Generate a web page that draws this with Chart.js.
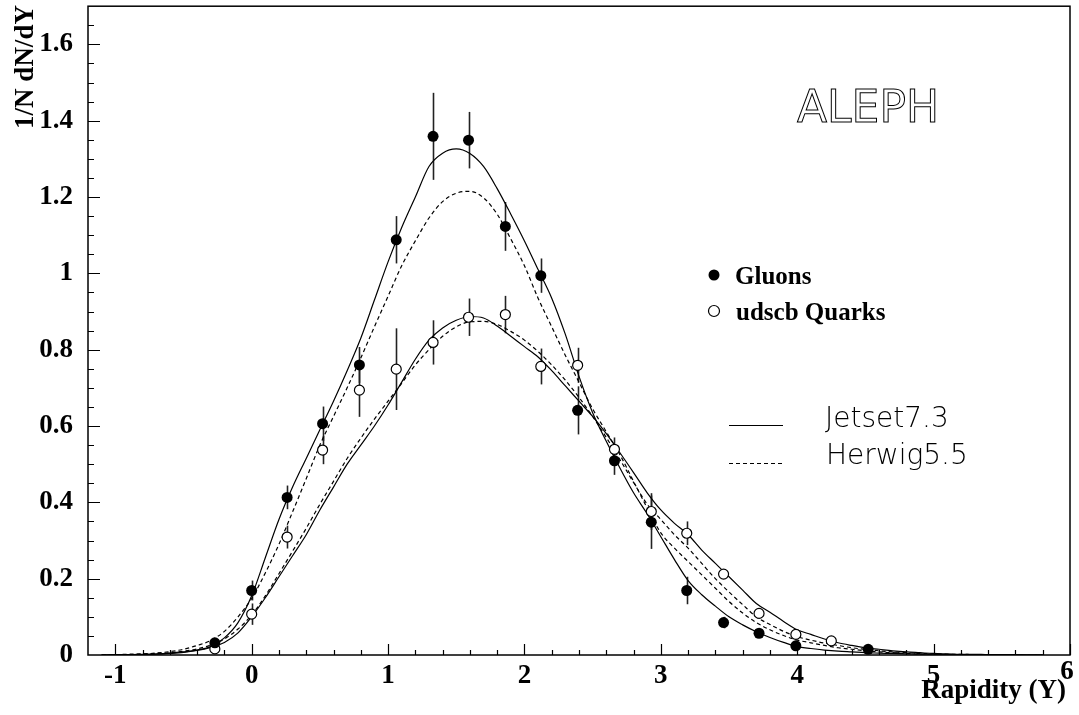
<!DOCTYPE html>
<html>
<head>
<meta charset="utf-8">
<script src="https://cdn.jsdelivr.net/npm/chart.js@4.4.1/dist/chart.umd.min.js"></script>
<style>
  html, body { margin: 0; padding: 0; background: #fff; }
</style>
</head>
<body>
<canvas id="graphId" width="1079" height="715"></canvas>
<script>
//////////////////////////////// data \\\\\\\\\\\\\\\\\\\\\\\\\\\\\\\\

// measured bins (rapidity)
const binX = [-0.27, 0, 0.26, 0.52, 0.79, 1.06, 1.33, 1.59, 1.86, 2.12, 2.39, 2.66, 2.93, 3.19, 3.46, 3.72, 3.99, 4.25, 4.52];
const gluonY = [0.032, 0.169, 0.413, 0.606, 0.76, 1.088, 1.359, 1.349, 1.123, 0.994, 0.641, 0.509, 0.348, 0.169, 0.085, 0.057, 0.024, null, 0.015];
const gluonErr = [0.006, 0.026, 0.031, 0.045, 0.047, 0.062, 0.114, 0.074, 0.064, 0.045, 0.063, 0.037, 0.07, 0.036, 0.015, 0.008, 0.008, null, 0.004];
const quarkY = [0.016, 0.107, 0.309, 0.537, 0.694, 0.749, 0.819, 0.885, 0.892, 0.756, 0.759, 0.539, 0.376, 0.319, 0.212, 0.109, 0.054, 0.037, null];
const quarkErr = [0.004, 0.028, 0.03, 0.037, 0.07, 0.107, 0.058, 0.049, 0.049, 0.047, 0.046, 0.031, 0.048, 0.031, 0.012, 0.013, 0.006, 0.005, null];

// MC curves, read every 0.1 from -1.1 to 5.8
const curveX = [-1.1, -1.0, -0.9, -0.8, -0.7, -0.6, -0.5, -0.4, -0.3, -0.2, -0.1,
  0.0, 0.1, 0.2, 0.3, 0.4, 0.5, 0.6, 0.7, 0.8, 0.9,
  1.0, 1.1, 1.2, 1.3, 1.4, 1.5, 1.6, 1.7, 1.8, 1.9,
  2.0, 2.1, 2.2, 2.3, 2.4, 2.5, 2.6, 2.7, 2.8, 2.9,
  3.0, 3.1, 3.2, 3.3, 3.4, 3.5, 3.6, 3.7, 3.8, 3.9,
  4.0, 4.1, 4.2, 4.3, 4.4, 4.5, 4.6, 4.7, 4.8, 4.9,
  5.0, 5.1, 5.2, 5.3, 5.4, 5.5, 5.6, 5.7, 5.8];
const jetsetGluon = [0, 0, 0.001, 0.001, 0.002, 0.004, 0.007, 0.013, 0.022, 0.045, 0.085,
  0.155, 0.255, 0.355, 0.44, 0.515, 0.59, 0.665, 0.745, 0.83, 0.93,
  1.03, 1.12, 1.2, 1.28, 1.315, 1.326, 1.314, 1.28, 1.222, 1.155,
  1.085, 1.01, 0.935, 0.84, 0.73, 0.635, 0.56, 0.49, 0.425, 0.37,
  0.31, 0.25, 0.195, 0.158, 0.128, 0.1, 0.079, 0.061, 0.046, 0.033,
  0.022, 0.017, 0.013, 0.01, 0.008, 0.006, 0.005, 0.004, 0.003, 0.002,
  0.002, 0.001, 0.001, 0.001, 0.001, 0, 0, 0, 0];
const herwigGluon = [0, 0.001, 0.002, 0.003, 0.005, 0.009, 0.015, 0.025, 0.038, 0.062, 0.1,
  0.148, 0.215, 0.29, 0.375, 0.462, 0.55, 0.625, 0.7, 0.778, 0.86,
  0.94, 1.02, 1.085, 1.145, 1.188, 1.21, 1.215, 1.198, 1.155, 1.09,
  1.02, 0.935, 0.86, 0.785, 0.715, 0.645, 0.585, 0.525, 0.455, 0.385,
  0.32, 0.28, 0.245, 0.21, 0.175, 0.14, 0.11, 0.085, 0.066, 0.051,
  0.039, 0.032, 0.025, 0.019, 0.015, 0.011, 0.008, 0.006, 0.004, 0.003,
  0.002, 0.001, 0.001, 0.001, 0, 0, 0, 0, 0];
const jetsetQuark = [0, 0.001, 0.001, 0.002, 0.003, 0.005, 0.008, 0.012, 0.02, 0.033, 0.058,
  0.1, 0.15, 0.205, 0.26, 0.315, 0.38, 0.44, 0.5, 0.55, 0.6,
  0.655, 0.715, 0.775, 0.825, 0.857, 0.877, 0.887, 0.883, 0.862, 0.835,
  0.808, 0.781, 0.745, 0.705, 0.665, 0.625, 0.58, 0.53, 0.478, 0.425,
  0.38, 0.345, 0.315, 0.275, 0.24, 0.205, 0.17, 0.135, 0.112, 0.088,
  0.066, 0.054, 0.042, 0.032, 0.025, 0.019, 0.015, 0.011, 0.008, 0.006,
  0.004, 0.003, 0.002, 0.002, 0.001, 0.001, 0.001, 0, 0];
const herwigQuark = [0, 0.001, 0.001, 0.002, 0.004, 0.006, 0.01, 0.016, 0.026, 0.042, 0.068,
  0.105, 0.155, 0.213, 0.272, 0.332, 0.395, 0.455, 0.515, 0.568, 0.618,
  0.665, 0.712, 0.76, 0.8, 0.835, 0.86, 0.873, 0.874, 0.866, 0.848,
  0.825, 0.795, 0.76, 0.72, 0.675, 0.625, 0.57, 0.512, 0.452, 0.395,
  0.355, 0.315, 0.28, 0.24, 0.2, 0.165, 0.132, 0.1, 0.08, 0.062,
  0.048, 0.039, 0.031, 0.025, 0.019, 0.015, 0.011, 0.008, 0.006, 0.004,
  0.003, 0.002, 0.002, 0.001, 0.001, 0, 0, 0, 0];

const serif = '"Liberation Serif", "Times New Roman", serif';
const hershey = '"DejaVu Sans", sans-serif';

//////////////////////////////// datasets \\\\\\\\\\\\\\\\\\\\\\\\\\\\\\\\

function pts(xs, ys) {
  let out = [];
  for (let i = 0; i < xs.length; i++) {
    if (ys[i] !== null) out.push({ x: xs[i], y: ys[i] });
  }
  return out;
}

let DataArray = [];
// points first so they are drawn on top
DataArray.push({
  label: 'Gluons', data: pts(binX, gluonY),
  pointRadius: 5.5, pointBackgroundColor: '#000', pointBorderWidth: 0, showLine: false
});
DataArray.push({
  label: 'udscb Quarks', data: pts(binX, quarkY),
  pointRadius: 5, pointBackgroundColor: '#fff', pointBorderColor: '#000', pointBorderWidth: 1.2, showLine: false
});
const curves = [
  ['Jetset7.3 g', jetsetGluon, []],
  ['Herwig5.5 g', herwigGluon, [4, 3]],
  ['Jetset7.3 q', jetsetQuark, []],
  ['Herwig5.5 q', herwigQuark, [4, 3]]
];
curves.forEach(c => {
  DataArray.push({
    label: c[0], data: pts(curveX, c[1]), showLine: true, pointRadius: 0,
    borderColor: '#000', borderWidth: 1.2, borderDash: c[2],
    cubicInterpolationMode: 'monotone'
  });
});

//////////////////////////////// frame, ticks, error bars, labels \\\\\\\\\\\\\\\\\\\\\\\\\\\\\\\\

const extras = {
  id: 'extras',
  beforeDatasetsDraw(chart) {
    const c = chart.ctx, xs = chart.scales.x, ys = chart.scales.y;
    c.save();
    c.strokeStyle = '#222';
    c.lineWidth = 1.6;
    [[gluonY, gluonErr], [quarkY, quarkErr]].forEach(s => {
      for (let i = 0; i < binX.length; i++) {
        if (s[0][i] === null) continue;
        const px = Math.round(xs.getPixelForValue(binX[i])) + 0.5;
        c.beginPath();
        c.moveTo(px, ys.getPixelForValue(s[0][i] - s[1][i]));
        c.lineTo(px, ys.getPixelForValue(s[0][i] + s[1][i]));
        c.stroke();
      }
    });
    c.restore();
  },
  afterDraw(chart) {
    const c = chart.ctx, a = chart.chartArea, xs = chart.scales.x, ys = chart.scales.y;
    c.save();
    c.strokeStyle = '#000';
    c.lineWidth = 1.5;
    c.strokeRect(a.left, a.top, a.right - a.left, a.bottom - a.top);

    // inward ticks
    c.lineWidth = 1.2;
    c.beginPath();
    for (let k = -5; k <= 30; k++) {
      const px = Math.round(xs.getPixelForValue(k * 0.2)) + 0.5;
      const len = (k % 5 === 0) ? 11 : 5;
      c.moveTo(px, a.bottom);
      c.lineTo(px, a.bottom - len);
    }
    for (let k = 1; k <= 33; k++) {
      const py = Math.round(ys.getPixelForValue(k * 0.05)) + 0.5;
      const len = (k % 4 === 0) ? 12 : 6;
      c.moveTo(a.left, py);
      c.lineTo(a.left + len, py);
    }
    c.stroke();

    // axis titles
    c.fillStyle = '#000';
    c.font = 'bold 27px ' + serif;
    c.textAlign = 'center';
    c.textBaseline = 'alphabetic';
    // last x label sits raised, next to the title
    c.fillText('6', xs.getPixelForValue(6) - 3, 679);
    c.textAlign = 'right';
    c.fillText('Rapidity (Y)', 1066, 698);
    c.save();
    c.translate(33, 67);
    c.rotate(-Math.PI / 2);
    c.textAlign = 'center';
    c.fillText('1/N dN/dY', 0, 0);
    c.restore();

    // ALEPH
    c.font = '44px ' + hershey;
    c.lineWidth = 1;
    c.textAlign = 'left';
    c.strokeText('ALEPH', 797, 122);

    // legend: data
    c.beginPath();
    c.arc(714, 275, 5.5, 0, Math.PI * 2);
    c.fill();
    c.beginPath();
    c.lineWidth = 1.2;
    c.arc(714, 311, 5.5, 0, Math.PI * 2);
    c.stroke();
    c.font = 'bold 25px ' + serif;
    c.fillText('Gluons', 735, 284);
    c.fillText('udscb Quarks', 736, 320);

    // legend: models
    c.lineWidth = 1.2;
    c.beginPath();
    c.moveTo(729, 425.5);
    c.lineTo(783, 425.5);
    c.stroke();
    c.setLineDash([4, 3]);
    c.beginPath();
    c.moveTo(729, 463.5);
    c.lineTo(783, 463.5);
    c.stroke();
    c.setLineDash([]);
    c.fillStyle = '#000';
    c.font = '200 28px ' + hershey;
    c.fillText('Jetset7.3', 825, 427);
    c.fillText('Herwig5.5', 826, 464);
    c.restore();
  }
};

const ctx = document.getElementById('graphId').getContext('2d');
const myChart = new Chart(ctx, {
  type: 'scatter',
  data: { datasets: DataArray },
  options: {
    responsive: false,
    animation: false,
    layout: { padding: { top: 6, right: 9, left: 0, bottom: 0 } },
    plugins: { legend: { display: false }, tooltip: { enabled: false } },
    scales: {
      x: {
        type: 'linear', min: -1.2, max: 6,
        afterFit: s => { s.height = 60; s.paddingLeft = 0; s.paddingRight = 0; },
        grid: { display: false, drawTicks: false },
        border: { display: false },
        ticks: {
          stepSize: 1, includeBounds: false, padding: 5, autoSkip: false, maxRotation: 0,
          color: '#000', font: { family: serif, size: 27, weight: 'bold' },
          callback: v => (v === 6 ? '' : String(Math.round(v)))
        }
      },
      y: {
        type: 'linear', min: 0, max: 1.7,
        afterFit: s => { s.width = 88; s.paddingTop = 0; s.paddingBottom = 0; },
        grid: { display: false, drawTicks: false },
        border: { display: false },
        ticks: {
          stepSize: 0.2, includeBounds: false, padding: 15,
          color: '#000', font: { family: serif, size: 27, weight: 'bold' },
          callback: v => String(Math.round(v * 10) / 10)
        }
      }
    }
  },
  plugins: [extras]
});
</script>
</body>
</html>
